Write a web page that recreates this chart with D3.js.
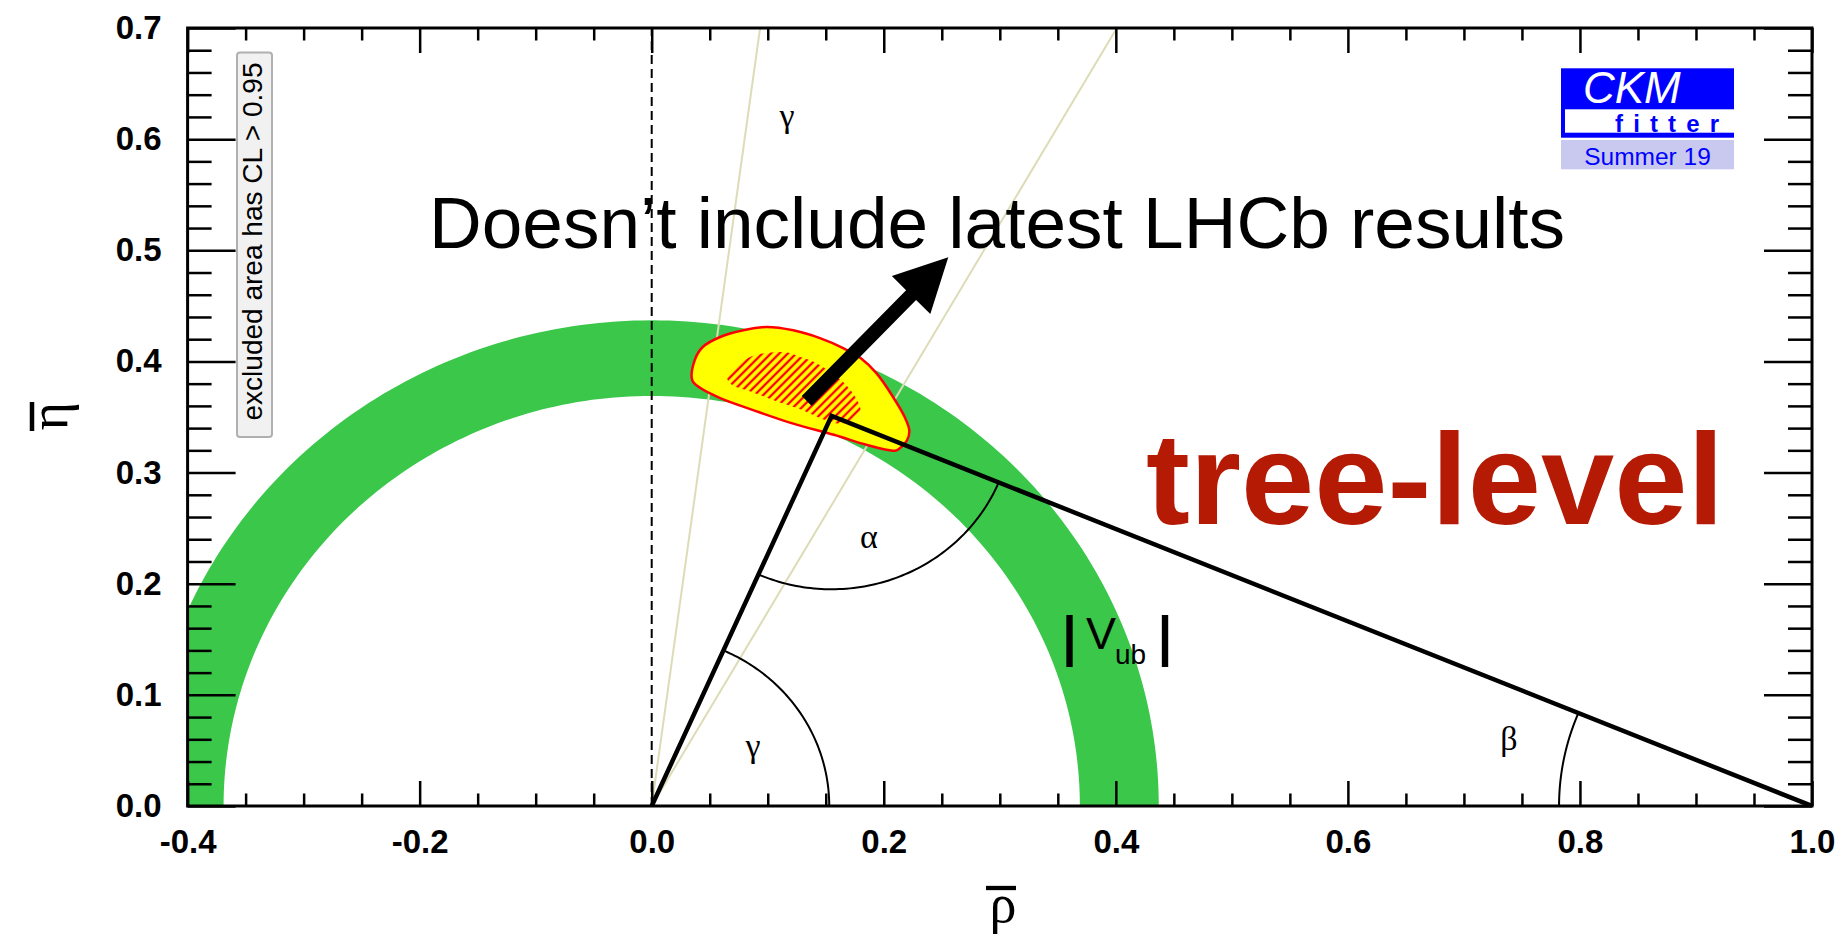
<!DOCTYPE html>
<html>
<head>
<meta charset="utf-8">
<script src="https://cdn.jsdelivr.net/npm/d3@7"></script>
<style>
  html, body { margin: 0; padding: 0; background: #ffffff; }
  svg { display: block; }
</style>
</head>
<body>
<svg id="chart" width="1839" height="938"></svg>
<script>
// ---- axis ranges and tick labels ----
const rhoDomain = [-0.4, 1.0];
const etaDomain = [0.0, 0.7];
const rhoTickLabels = ["-0.4", "-0.2", "0.0", "0.2", "0.4", "0.6", "0.8", "1.0"];
const etaTickLabels = ["0.0", "0.1", "0.2", "0.3", "0.4", "0.5", "0.6", "0.7"];

// ---- unitarity triangle: (0,0), apex (rho, eta), (1,0) ----
const apex = [0.155, 0.351];
const triangleBase = [[0, 0], [1, 0]];

// ---- |Vub| band: inner / outer radius around the origin ----
const vubRadii = [0.369, 0.437];

// ---- gamma constraint: bounding directions from the origin (degrees) ----
const gammaBoundsDeg = [60.2, 82.4];

// ---- combined fit: 95% CL contour (rho, eta) ----
const cl95Contour = [
  [0.035, 0.383], [0.037, 0.401], [0.044, 0.413], [0.059, 0.422], [0.079, 0.428],
  [0.099, 0.431], [0.122, 0.428], [0.145, 0.421], [0.165, 0.412], [0.180, 0.403],
  [0.194, 0.389], [0.208, 0.368], [0.218, 0.350], [0.222, 0.338], [0.220, 0.329],
  [0.211, 0.320], [0.205, 0.320], [0.185, 0.325], [0.157, 0.334], [0.122, 0.344],
  [0.088, 0.356], [0.059, 0.367], [0.042, 0.376]
];

// ---- combined fit: 68% CL contour (rho, eta) ----
const cl68Contour = [
  [0.065, 0.386], [0.083, 0.403], [0.102, 0.408], [0.117, 0.408], [0.128, 0.404],
  [0.139, 0.400], [0.149, 0.394], [0.161, 0.385], [0.169, 0.377], [0.176, 0.367],
  [0.180, 0.355], [0.175, 0.348], [0.162, 0.344], [0.150, 0.347], [0.128, 0.357],
  [0.108, 0.364], [0.085, 0.373], [0.069, 0.379]
];

// ---- angle arcs (radius in rho units) ----
const gammaArcRadius = 0.153;
const alphaArcRadius = 0.156;
const betaArcRadius = 0.218;

// ---- annotation arrow (tail, tip) in (rho, eta) ----
const arrowTailTip = [[0.1336, 0.3644], [0.2556, 0.4937]];

// ---------------------------------------------------------------
const sans = "'Liberation Sans', Arial, Helvetica, sans-serif";
const serif = "'Liberation Serif', 'Times New Roman', serif";

const svg = d3.select("#chart");
const x = d3.scaleLinear().domain(rhoDomain).range([187.6, 1812]);
const y = d3.scaleLinear().domain(etaDomain).range([806, 28]);

const rhoMajor = rhoTickLabels.map(Number);
const etaMajor = etaTickLabels.map(Number);
const rhoMinor = d3.range(0, 29).map(i => -0.4 + i * 0.05)
  .filter(v => !rhoMajor.some(m => Math.abs(m - v) < 1e-6));
const etaMinor = d3.range(0, 36).map(i => i * 0.02)
  .filter(v => !etaMajor.some(m => Math.abs(m - v) < 1e-6));

const defs = svg.append("defs");
defs.append("clipPath").attr("id", "plotClip")
  .append("rect")
  .attr("x", x(rhoDomain[0])).attr("y", y(etaDomain[1]))
  .attr("width", x(rhoDomain[1]) - x(rhoDomain[0]))
  .attr("height", y(etaDomain[0]) - y(etaDomain[1]));

const hatch = defs.append("pattern").attr("id", "hatch68")
  .attr("patternUnits", "userSpaceOnUse")
  .attr("width", 6).attr("height", 10)
  .attr("patternTransform", "rotate(45)");
hatch.append("line")
  .attr("x1", 3).attr("y1", 0).attr("x2", 3).attr("y2", 10)
  .attr("stroke", "#ff0000").attr("stroke-width", 2.3);

const plot = svg.append("g").attr("clip-path", "url(#plotClip)");
const toPx = p => [x(p[0]), y(p[1])];
const polar = (r, deg) => [r * Math.cos(deg * Math.PI / 180), r * Math.sin(deg * Math.PI / 180)];
const linePx = d3.line().x(d => x(d[0])).y(d => y(d[1]));

// |Vub| annulus
const outer = d3.range(0, 181, 1).map(d => polar(vubRadii[1], d));
const inner = d3.range(180, -1, -1).map(d => polar(vubRadii[0], d));
plot.append("path")
  .attr("d", linePx(outer.concat(inner)) + "Z")
  .attr("fill", "#3ac74a");

// gamma bounding rays
gammaBoundsDeg.forEach(deg => {
  const t = Math.tan(deg * Math.PI / 180);
  const end = [etaDomain[1] / t, etaDomain[1]];
  plot.append("path")
    .attr("d", linePx([[0, 0], end]))
    .attr("stroke", "#dddcb8").attr("stroke-width", 2).attr("fill", "none");
});

// dashed line at rho = 0
plot.append("path")
  .attr("d", linePx([[0, etaDomain[0]], [0, etaDomain[1]]]))
  .attr("stroke", "#000").attr("stroke-width", 2)
  .attr("stroke-dasharray", "9,5").attr("fill", "none");

// 95% CL region
const smooth = d3.line().x(d => x(d[0])).y(d => y(d[1])).curve(d3.curveCatmullRomClosed.alpha(0.5));
plot.append("path")
  .attr("d", smooth(cl95Contour))
  .attr("fill", "#ffff00").attr("stroke", "#ff0000").attr("stroke-width", 2.5);

// 68% CL region (hatched)
plot.append("path")
  .attr("d", smooth(cl68Contour))
  .attr("fill", "url(#hatch68)").attr("stroke", "none");

// unitarity triangle
plot.append("path")
  .attr("d", linePx([triangleBase[0], apex, triangleBase[1]]))
  .attr("stroke", "#000").attr("stroke-width", 4.5).attr("fill", "none")
  .attr("stroke-linejoin", "miter");

// angle arcs
function arc(center, r, a0, a1) {
  const n = 80;
  const pts = d3.range(n + 1).map(i => {
    const a = a0 + (a1 - a0) * i / n;
    const p = polar(r, a);
    return [center[0] + p[0], center[1] + p[1]];
  });
  plot.append("path").attr("d", linePx(pts))
    .attr("stroke", "#000").attr("stroke-width", 2).attr("fill", "none");
}
const deg = (dy, dx) => Math.atan2(dy, dx) * 180 / Math.PI;
arc([0, 0], gammaArcRadius, 0, deg(apex[1], apex[0]));
arc(apex, alphaArcRadius, deg(-apex[1], -apex[0]), deg(-apex[1], 1 - apex[0]));
arc([1, 0], betaArcRadius, deg(apex[1], apex[0] - 1), 180);

// annotation arrow
{
  const p0 = toPx(arrowTailTip[0]), p1 = toPx(arrowTailTip[1]);
  const dx = p1[0] - p0[0], dy = p1[1] - p0[1], L = Math.hypot(dx, dy);
  const ux = dx / L, uy = dy / L, nx = -uy, ny = ux;
  const headLen = 53, headHalf = 27, shaftHalf = 7;
  const b = [p1[0] - ux * headLen, p1[1] - uy * headLen];
  const pts = [
    [p0[0] + nx * shaftHalf, p0[1] + ny * shaftHalf],
    [b[0] + nx * shaftHalf, b[1] + ny * shaftHalf],
    [b[0] + nx * headHalf, b[1] + ny * headHalf],
    p1,
    [b[0] - nx * headHalf, b[1] - ny * headHalf],
    [b[0] - nx * shaftHalf, b[1] - ny * shaftHalf],
    [p0[0] - nx * shaftHalf, p0[1] - ny * shaftHalf]
  ];
  svg.append("polygon").attr("points", pts.map(p => p.join(",")).join(" ")).attr("fill", "#000");
}

// ---- greek angle labels ----
const greek = [
  { t: "γ", px: 787, py: 127 },
  { t: "γ", px: 753, py: 757 },
  { t: "α", px: 869, py: 548 },
  { t: "β", px: 1509, py: 750 }
];
svg.selectAll("text.greek").data(greek).enter().append("text")
  .attr("class", "greek")
  .attr("x", d => d.px).attr("y", d => d.py)
  .attr("text-anchor", "middle")
  .attr("font-family", serif).attr("font-size", 34)
  .text(d => d.t);

// |Vub| label
{
  const g = svg.append("g").attr("font-family", sans).attr("fill", "#000");
  g.append("text").attr("x", 1069.5).attr("y", 655).attr("text-anchor", "middle")
    .attr("font-size", 54).attr("stroke", "#000").attr("stroke-width", 2).text("|");
  g.append("text").attr("x", 1086).attr("y", 648.5).attr("font-size", 45).text("V");
  g.append("text").attr("x", 1115).attr("y", 663.5).attr("font-size", 28).text("ub");
  g.append("text").attr("x", 1165).attr("y", 655).attr("text-anchor", "middle")
    .attr("font-size", 54).attr("stroke", "#000").attr("stroke-width", 2).text("|");
}

// headline text
svg.append("text")
  .attr("x", 429).attr("y", 247.5)
  .attr("font-family", sans).attr("font-size", 72)
  .attr("textLength", 1136).attr("lengthAdjust", "spacingAndGlyphs")
  .text("Doesn’t include latest LHCb results");

svg.append("text")
  .attr("x", 1146).attr("y", 524)
  .attr("font-family", sans).attr("font-weight", "bold").attr("font-size", 129)
  .attr("fill", "#b41a04")
  .attr("textLength", 578).attr("lengthAdjust", "spacingAndGlyphs")
  .text("tree-level");

// CL note box
{
  svg.append("rect")
    .attr("x", 237).attr("y", 52.5).attr("width", 35).attr("height", 384.5)
    .attr("rx", 3).attr("fill", "#f1f1f1").attr("stroke", "#b0b0b0").attr("stroke-width", 2);
  svg.append("text")
    .attr("transform", "translate(262,241.5) rotate(-90)")
    .attr("text-anchor", "middle")
    .attr("font-family", sans).attr("font-size", 27)
    .attr("textLength", 358).attr("lengthAdjust", "spacingAndGlyphs")
    .text("excluded area has CL > 0.95");
}

// CKMfitter logo
{
  const g = svg.append("g");
  g.append("rect").attr("x", 1561).attr("y", 68.3).attr("width", 173).attr("height", 69.4).attr("fill", "#0000ff");
  g.append("rect").attr("x", 1565).attr("y", 109.3).attr("width", 169).attr("height", 23.4).attr("fill", "#ffffff");
  g.append("text").attr("x", 1583).attr("y", 103).attr("font-family", sans)
    .attr("font-style", "italic").attr("font-size", 44).attr("fill", "#ffffff").text("CKM");
  g.append("text").attr("x", 1615).attr("y", 131.5).attr("font-family", sans)
    .attr("font-weight", "bold").attr("font-size", 24).attr("fill", "#0000ff")
    .attr("textLength", 104).attr("lengthAdjust", "spacing").text("fitter");
  g.append("rect").attr("x", 1561).attr("y", 140).attr("width", 173).attr("height", 29.3).attr("fill", "#c9c9f0");
  g.append("text").attr("x", 1647.5).attr("y", 165).attr("text-anchor", "middle").attr("font-family", sans)
    .attr("font-size", 24.5).attr("fill", "#0000ff").text("Summer 19");
}

// ---- axes ----
function styleAxis(g) {
  g.select(".domain").remove();
  g.selectAll(".tick line").attr("stroke", "#000").attr("stroke-width", 2.5);
  g.attr("font-family", sans).attr("font-size", 33).attr("font-weight", "bold");
  g.selectAll(".tick text").attr("fill", "#000");
}
const axes = svg.append("g");
// bottom
axes.append("g").attr("transform", `translate(0,${y(0)})`)
  .call(d3.axisBottom(x).tickValues(rhoMinor).tickSizeInner(-12.5).tickSizeOuter(0).tickFormat(""))
  .call(styleAxis);
axes.append("g").attr("transform", `translate(0,${y(0)})`)
  .call(d3.axisBottom(x).tickValues(rhoMajor).tickSizeInner(-25).tickSizeOuter(0)
    .tickFormat((d, i) => rhoTickLabels[i]))
  .call(styleAxis)
  .call(g => g.selectAll(".tick text").attr("y", 47).attr("dy", null));
// top
axes.append("g").attr("transform", `translate(0,${y(0.7)})`)
  .call(d3.axisTop(x).tickValues(rhoMinor).tickSizeInner(-12.5).tickSizeOuter(0).tickFormat(""))
  .call(styleAxis);
axes.append("g").attr("transform", `translate(0,${y(0.7)})`)
  .call(d3.axisTop(x).tickValues(rhoMajor).tickSizeInner(-25).tickSizeOuter(0).tickFormat(""))
  .call(styleAxis);
// left
axes.append("g").attr("transform", `translate(${x(-0.4)},0)`)
  .call(d3.axisLeft(y).tickValues(etaMinor).tickSizeInner(-24).tickSizeOuter(0).tickFormat(""))
  .call(styleAxis);
axes.append("g").attr("transform", `translate(${x(-0.4)},0)`)
  .call(d3.axisLeft(y).tickValues(etaMajor).tickSizeInner(-48).tickSizeOuter(0).tickPadding(26)
    .tickFormat((d, i) => etaTickLabels[i]))
  .call(styleAxis);
// right
axes.append("g").attr("transform", `translate(${x(1.0)},0)`)
  .call(d3.axisRight(y).tickValues(etaMinor).tickSizeInner(-24).tickSizeOuter(0).tickFormat(""))
  .call(styleAxis);
axes.append("g").attr("transform", `translate(${x(1.0)},0)`)
  .call(d3.axisRight(y).tickValues(etaMajor).tickSizeInner(-48).tickSizeOuter(0).tickFormat(""))
  .call(styleAxis);
// frame
axes.append("rect")
  .attr("x", x(-0.4)).attr("y", y(0.7))
  .attr("width", x(1.0) - x(-0.4)).attr("height", y(0) - y(0.7))
  .attr("fill", "none").attr("stroke", "#000").attr("stroke-width", 3);

// axis titles with overbars
svg.append("text").attr("x", 1003).attr("y", 922).attr("text-anchor", "middle")
  .attr("font-family", serif).attr("font-size", 54).text("ρ");
svg.append("line").attr("x1", 986).attr("x2", 1016).attr("y1", 888).attr("y2", 888)
  .attr("stroke", "#000").attr("stroke-width", 4.3);
svg.append("text").attr("transform", "translate(67,416) rotate(-90)").attr("text-anchor", "middle")
  .attr("font-family", serif).attr("font-size", 54).text("η");
svg.append("line").attr("x1", 32).attr("x2", 32).attr("y1", 402).attr("y2", 431)
  .attr("stroke", "#000").attr("stroke-width", 4.5);
</script>
</body>
</html>
